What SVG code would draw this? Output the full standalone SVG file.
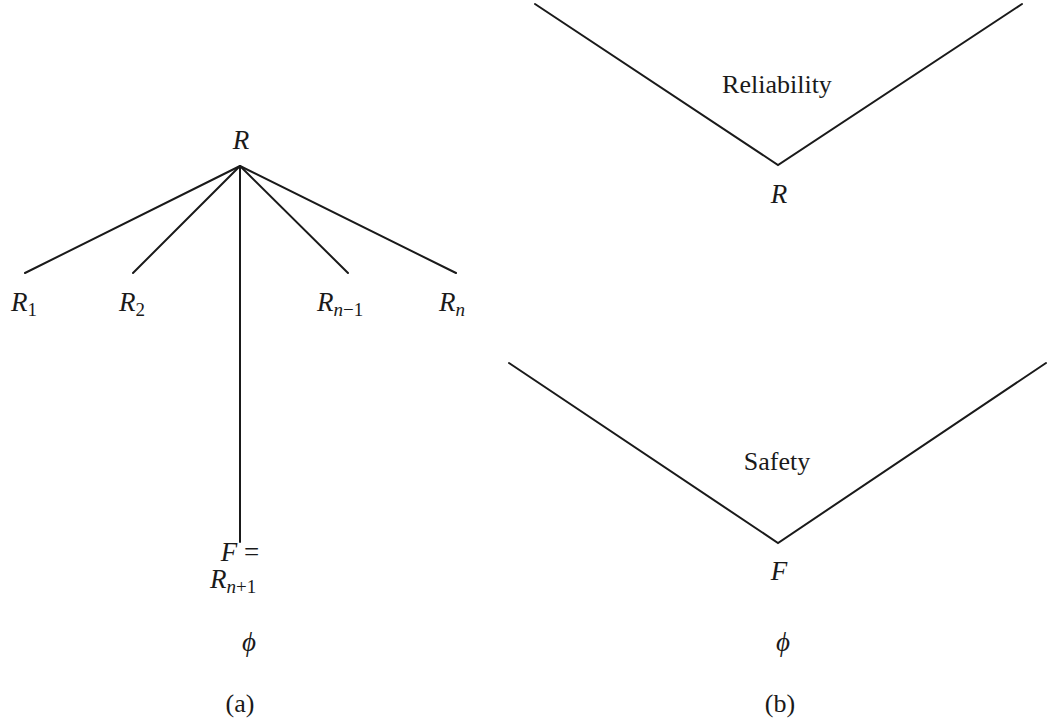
<svg xmlns="http://www.w3.org/2000/svg" width="1048" height="722" viewBox="0 0 1048 722">
<style>
.ln{stroke:#1a1a1a;stroke-width:2;fill:none;stroke-linecap:round;stroke-linejoin:miter}
.m{font-family:"Liberation Serif","DejaVu Serif",serif;font-style:italic;font-size:27px;fill:#1a1a1a}
.t{font-family:"Liberation Serif","DejaVu Serif",serif;font-size:26px;fill:#1a1a1a}
.s{font-size:19px;font-style:normal}
.si{font-size:19px}
</style>
<rect width="1048" height="722" fill="#fff"/>
<g id="connectors">
<line class="ln" x1="240" y1="166" x2="25" y2="273"/>
<line class="ln" x1="240" y1="166" x2="133" y2="273"/>
<line class="ln" x1="240" y1="166" x2="240" y2="542"/>
<line class="ln" x1="240" y1="166" x2="348" y2="273"/>
<line class="ln" x1="240" y1="166" x2="456" y2="273"/>
<polyline class="ln" points="535,4 778,165 1022,4"/>
<polyline class="ln" points="509,363 778,543 1046,363"/>
</g>
<g id="node-R-root"><text class="m" x="241" y="149" text-anchor="middle">R</text></g>
<g id="node-R1"><text class="m" x="11" y="311">R<tspan class="s" dy="5">1</tspan></text></g>
<g id="node-R2"><text class="m" x="119" y="311">R<tspan class="s" dy="5">2</tspan></text></g>
<g id="node-Rn-1"><text class="m" x="317" y="311">R<tspan class="si" dy="5">n</tspan><tspan class="s">−1</tspan></text></g>
<g id="node-Rn"><text class="m" x="439" y="311">R<tspan class="si" dy="5">n</tspan></text></g>
<g id="node-F-left">
<text class="m" x="240" y="561" text-anchor="middle">F <tspan font-style="normal">=</tspan></text>
<text class="m" x="210" y="588">R<tspan class="si" dy="5">n</tspan><tspan class="s">+1</tspan></text>
</g>
<g id="node-phi-a"><text class="m" x="249" y="651" text-anchor="middle">ϕ</text></g>
<g id="label-a"><text class="t" x="240" y="712" text-anchor="middle">(a)</text></g>
<g id="node-reliability"><text class="t" x="777" y="93" text-anchor="middle">Reliability</text></g>
<g id="node-R-right"><text class="m" x="779" y="203" text-anchor="middle">R</text></g>
<g id="node-safety"><text class="t" x="777" y="470" text-anchor="middle">Safety</text></g>
<g id="node-F-right"><text class="m" x="779" y="580" text-anchor="middle">F</text></g>
<g id="node-phi-b"><text class="m" x="783" y="651" text-anchor="middle">ϕ</text></g>
<g id="label-b"><text class="t" x="780" y="712" text-anchor="middle">(b)</text></g>
</svg>
